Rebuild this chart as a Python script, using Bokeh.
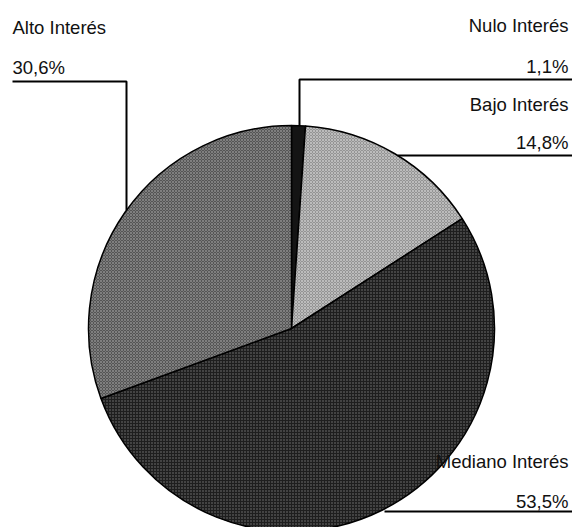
import numpy as np
from bokeh.plotting import figure
from bokeh.models import Range1d, ColumnDataSource
from bokeh.core.properties import value
from bokeh.embed import file_html
from bokeh.resources import INLINE

# ---- data ----
categories = ["Nulo Interés", "Bajo Interés", "Mediano Interés", "Alto Interés"]
percent = [1.1, 14.8, 53.5, 30.6]
pct_labels = ["1,1%", "14,8%", "53,5%", "30,6%"]

# ---- layout (pixel-like coordinates: x right, y up; page y = 527 - y) ----
W, H = 572, 527
def Y(py):
    return H - py

cx, cy, R = 291, Y(328), 203
fills = ["#141414", "#949494", "#1e1e1e", "#555555"]
hatch_cols = ["#000000", "#c6c6c6", "#7a7a7a", "#8a8a8a"]
hatches = [" ", "diagonal_cross", "dot", "diagonal_cross"]

frac = np.array(percent) / sum(percent)
cum = np.concatenate([[0], np.cumsum(frac)])
start = np.pi / 2 - cum[:-1] * 2 * np.pi
end = np.pi / 2 - cum[1:] * 2 * np.pi

src = ColumnDataSource(dict(cat=categories, start=start, end=end, fill=fills,
                            hc=hatch_cols, hp=hatches))

p = figure(width=W, height=H, output_backend="svg", toolbar_location=None,
           x_range=Range1d(0, W), y_range=Range1d(0, H),
           min_border=0, outline_line_color=None)
p.axis.visible = False
p.grid.visible = False
p.background_fill_color = "white"
p.border_fill_color = "white"

p.wedge(x=cx, y=cy, radius=R, start_angle="start", end_angle="end", direction="clock",
        fill_color="fill", hatch_pattern="hp", hatch_color="hc", hatch_scale=3,
        hatch_weight=0.8, line_color="black", line_width=1.5, source=src)

def edge_y_at_x(x, upper=True):
    dy = np.sqrt(R**2 - (x - cx)**2)
    return cy + dy if upper else cy - dy

def edge_x_at_y(y, right=True):
    dx = np.sqrt(R**2 - (y - cy)**2)
    return cx + dx if right else cx - dx

lw = 2
# Alto (left)
ax = 126
p.line([12, ax, ax], [Y(81), Y(81), edge_y_at_x(ax)], line_color="black", line_width=lw)
# Nulo (top right)
nx = 299
p.line([572, nx, nx], [Y(79), Y(79), edge_y_at_x(nx)], line_color="black", line_width=lw)
# Bajo
p.line([572, edge_x_at_y(Y(155))], [Y(155), Y(155)], line_color="black", line_width=lw)
# Mediano
p.line([572, 384], [Y(511), Y(511)], line_color="black", line_width=lw)

font = value("Liberation Sans")
fs = "18.5px"
dy = 6
left_txt = dict(x=[12, 12], y=[Y(33 - dy), Y(73 - dy)], t=[categories[3], pct_labels[3]])
p.text(x="x", y="y", text="t", source=ColumnDataSource(left_txt), text_font=font,
       text_font_size=fs, text_align="left", text_baseline="alphabetic", text_color="#111111")
right_txt = dict(x=[568] * 6,
                 y=[Y(v - dy) for v in [31, 72, 110, 148, 467, 507]],
                 t=[categories[0], pct_labels[0], categories[1], pct_labels[1],
                    categories[2], pct_labels[2]])
p.text(x="x", y="y", text="t", source=ColumnDataSource(right_txt), text_font=font,
       text_font_size=fs, text_align="right", text_baseline="alphabetic", text_color="#111111")

open("out.html", "w").write(file_html(p, INLINE))
